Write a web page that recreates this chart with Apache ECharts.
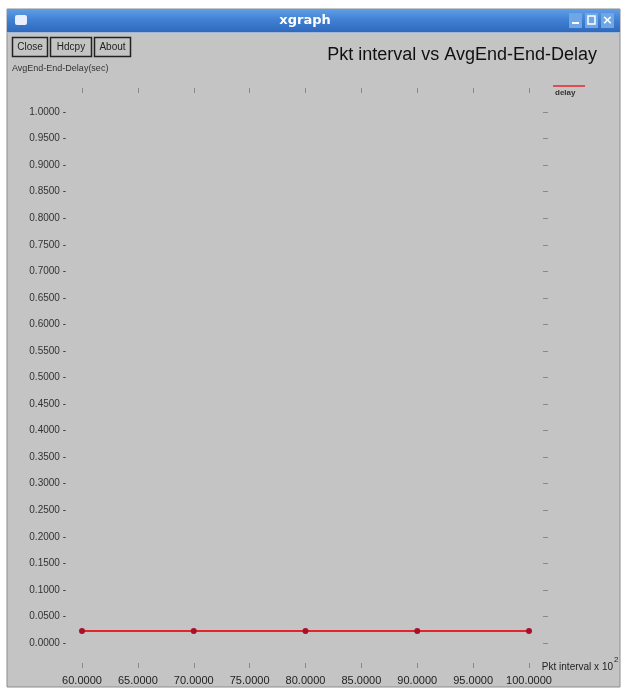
<!DOCTYPE html>
<html>
<head>
<meta charset="utf-8">
<title>xgraph</title>
<script src="https://cdn.jsdelivr.net/npm/echarts@6/dist/echarts.min.js"></script>
<style>
  html, body { margin: 0; padding: 0; background: #fff; }
  #main { width: 626px; height: 690px; }
</style>
</head>
<body>
<div id="main"></div>
<script>
// Pkt interval (x) against average end-to-end delay in seconds (y)
const pktInterval = [60, 70, 80, 90, 100];
const avgDelay = [0.0225, 0.0225, 0.0225, 0.0225, 0.0225];
const seriesName = 'delay';

const xMin = 60, xMax = 100, xStep = 5;
const yMin = 0, yMax = 1, yStep = 0.05;

const labelFont = 'Liberation Sans, Arial, sans-serif';
const tickColor = '#8a8a8a';

const chart = echarts.init(document.getElementById('main'), null, { renderer: 'canvas' });

// window chrome: frame, title bar and the three buttons
const frame = [
  { type: 'rect', z: -100, shape: { x: 7, y: 9, width: 613, height: 678 }, style: { fill: '#c4c4c4', stroke: '#8c8c8c', lineWidth: 1 } },
  { type: 'rect', z: -99, shape: { x: 7, y: 9, width: 613, height: 23 },
    style: { fill: new echarts.graphic.LinearGradient(0, 0, 0, 1, [
      { offset: 0, color: '#5f9ee6' }, { offset: 0.5, color: '#3f7fd2' }, { offset: 1, color: '#2f69bd' }]) } },
  { type: 'line', z: -98, shape: { x1: 7, y1: 32.5, x2: 620, y2: 32.5 }, style: { stroke: '#9fb8d8', lineWidth: 1 } },
  { type: 'rect', z: -97, shape: { x: 15, y: 15, width: 12, height: 10, r: 2 }, style: { fill: '#e8f0ff' } },
  { type: 'text', z: -97, style: { text: 'xgraph', x: 305, y: 21, fill: '#fff', font: 'bold 13px DejaVu Sans, sans-serif', align: 'center', verticalAlign: 'middle' } },
  { type: 'rect', z: -97, shape: { x: 569, y: 13, width: 13, height: 15 }, style: { fill: '#6fa6e6' } },
  { type: 'rect', z: -96, shape: { x: 572, y: 22, width: 7, height: 2 }, style: { fill: '#fff' } },
  { type: 'rect', z: -97, shape: { x: 585, y: 13, width: 13, height: 15 }, style: { fill: '#6fa6e6' } },
  { type: 'rect', z: -96, shape: { x: 588, y: 16, width: 7, height: 8 }, style: { fill: 'none', stroke: '#fff', lineWidth: 1.5 } },
  { type: 'rect', z: -97, shape: { x: 601, y: 13, width: 13, height: 15 }, style: { fill: '#6fa6e6' } },
  { type: 'text', z: -96, style: { text: '×', x: 607.5, y: 21, fill: '#fff', font: 'bold 13px DejaVu Sans, sans-serif', align: 'center', verticalAlign: 'middle' } }
];

const buttons = [['Close', 12, 35], ['Hdcpy', 50, 41], ['About', 94, 36]];
buttons.forEach(([txt, x, w]) => {
  frame.push({ type: 'rect', z: -95, shape: { x: x + 0.5, y: 37.5, width: w, height: 19 }, style: { fill: '#c4c4c4', stroke: '#222', lineWidth: 1.5 } });
  frame.push({ type: 'text', z: -94, style: { text: txt, x: x + w / 2 + 0.5, y: 47, fill: '#222', font: '10px ' + labelFont, align: 'center', verticalAlign: 'middle' } });
});

// titles, axis captions and the legend entry
const annotations = [
  { type: 'text', z: 10, style: { text: 'Pkt interval vs AvgEnd-End-Delay', x: 597, y: 55, fill: '#111', font: '18px ' + labelFont, align: 'right', verticalAlign: 'middle' } },
  { type: 'text', z: 10, style: { text: 'AvgEnd-End-Delay(sec)', x: 12, y: 69, fill: '#333', font: '9px ' + labelFont, align: 'left', verticalAlign: 'middle' } },
  { type: 'text', z: 10, style: { text: 'Pkt interval x 10', x: 613, y: 667, fill: '#222', font: '10px ' + labelFont, align: 'right', verticalAlign: 'middle' } },
  { type: 'text', z: 10, style: { text: '2', x: 614, y: 660, fill: '#222', font: '8px ' + labelFont, align: 'left', verticalAlign: 'middle' } },
  { type: 'line', z: 10, shape: { x1: 553, y1: 86, x2: 585, y2: 86 }, style: { stroke: '#e8242c', lineWidth: 1.5 } },
  { type: 'text', z: 10, style: { text: seriesName, x: 555, y: 93, fill: '#333', font: 'bold 8px ' + labelFont, align: 'left', verticalAlign: 'middle' } }
];

const clearLine = { show: true, onZero: false, lineStyle: { color: 'rgba(0,0,0,0)' } };

chart.setOption({
  backgroundColor: '#ffffff',
  animation: false,
  graphic: { elements: frame.concat(annotations) },
  grid: { left: 82, right: 97, top: 112, bottom: 47, containLabel: false },
  xAxis: [
    {
      type: 'value', min: xMin, max: xMax, interval: xStep, position: 'bottom', offset: 20,
      axisLine: clearLine, splitLine: { show: false },
      axisTick: { show: true, length: 5, inside: false, lineStyle: { color: tickColor } },
      axisLabel: { margin: 12, color: '#222', fontSize: 11, fontFamily: labelFont, formatter: v => v.toFixed(4) }
    },
    {
      type: 'value', min: xMin, max: xMax, interval: xStep, position: 'top', offset: 19,
      axisLine: clearLine, splitLine: { show: false },
      axisTick: { show: true, length: 5, inside: false, lineStyle: { color: tickColor } },
      axisLabel: { show: false }
    }
  ],
  yAxis: [
    {
      type: 'value', min: yMin, max: yMax, interval: yStep, position: 'left',
      axisLine: { show: false }, splitLine: { show: false }, axisTick: { show: false },
      axisLabel: { margin: 16, color: '#333', fontSize: 10, fontFamily: labelFont, formatter: v => v.toFixed(4) + ' -' }
    },
    {
      type: 'value', min: yMin, max: yMax, interval: yStep, position: 'right', offset: 14,
      axisLine: { show: true, onZero: false, lineStyle: { color: 'rgba(0,0,0,0)' } }, splitLine: { show: false },
      axisTick: { show: true, length: 5, inside: false, lineStyle: { color: tickColor } },
      axisLabel: { show: false }
    }
  ],
  series: [
    {
      name: seriesName,
      type: 'line',
      data: pktInterval.map((x, i) => [x, avgDelay[i]]),
      symbol: 'circle',
      symbolSize: 6,
      lineStyle: { color: '#e3242c', width: 2 },
      itemStyle: { color: '#a8102a' },
      z: 5
    }
  ]
});
</script>
</body>
</html>
